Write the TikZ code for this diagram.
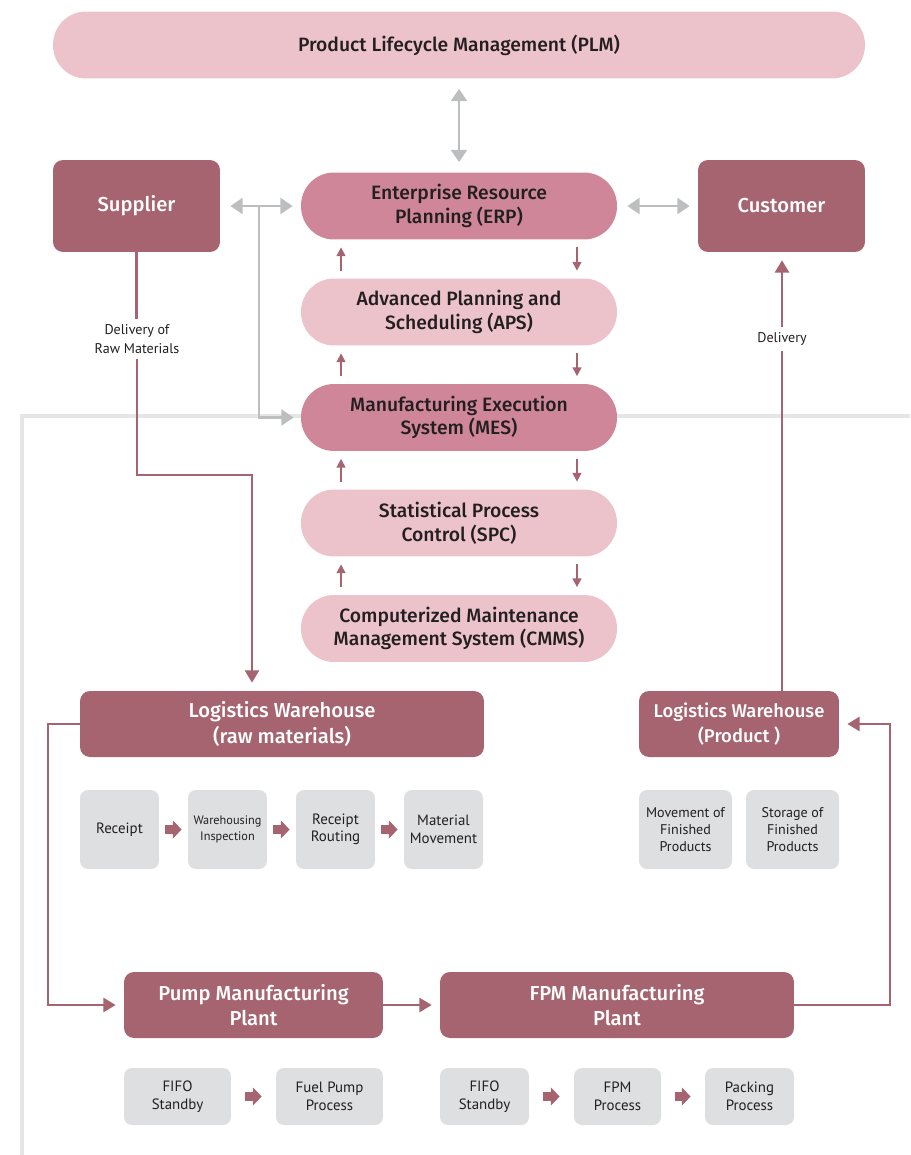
\documentclass[tikz,border=0pt]{standalone}
\usepackage{fontspec}
\setmainfont{PT Sans}
\newfontfamily\headfont{Fira Sans}[UprightFont={* Medium}]
\usetikzlibrary{arrows.meta}

\definecolor{plumdark}{HTML}{A5646F}
\definecolor{rosemid}{HTML}{CF8698}
\definecolor{roselight}{HTML}{EDC3CB}
\definecolor{stepgray}{HTML}{DEDFE0}
\definecolor{linkgray}{HTML}{BDBEC0}
\definecolor{framegray}{HTML}{E6E6E7}
\definecolor{inkdark}{HTML}{231F20}

\tikzset{
	pill/.style={rounded corners=0.66cm, minimum width=6.32cm, minimum height=1.34cm, inner sep=0pt,
		align=center, text=inkdark, font=\headfont\fontsize{11}{13.5}\selectfont},
	darkbox/.style={fill=plumdark, rounded corners=0.2cm, minimum height=1.32cm, inner sep=0pt,
		align=center, text=white, font=\headfont\fontsize{11.5}{14.5}\selectfont},
	stepbox/.style={fill=stepgray, rounded corners=0.16cm, minimum width=1.58cm, minimum height=1.58cm,
		inner sep=0pt, align=center, text=inkdark, font=\fontsize{8.5}{10}\selectfont},
	lowbox/.style={stepbox, minimum height=1.14cm},
	lbl/.style={text=inkdark, align=center, inner sep=3pt, font=\fontsize{8}{11}\selectfont},
	flow/.style={draw=plumdark, line width=1.4pt, -{Triangle[width=8pt,length=7pt]}},
	tick/.style={draw=plumdark, line width=1pt, -{Triangle[width=5pt,length=5pt]},
		shorten <=0.15cm, shorten >=0.15cm},
	link/.style={draw=linkgray, line width=1.6pt, >={Triangle[width=9pt,length=7pt]}},
	fatarrow/.style={draw=plumdark, line width=5pt, -{Triangle[width=10pt,length=5pt]},
		shorten <=#1, shorten >=#1},
	fatarrow/.default=0.12cm
}

\begin{document}
\begin{tikzpicture}[x=0.02cm, y=-0.02cm]
	\useasboundingbox (0,0) rectangle (910,1155);

	% frame behind the plant area
	\draw[framegray, line width=2.8pt] (910,416) -- (22,416) -- (22,1155);

	% systems column
	\node[pill, fill=roselight, minimum width=16.24cm] (plm) at (459,45) {Product Lifecycle Management (PLM)};
	\node[pill, fill=rosemid] (erp) at (459,206) {Enterprise Resource\\Planning (ERP)};
	\node[pill, fill=roselight] (aps) at (459,312) {Advanced Planning and\\Scheduling (APS)};
	\node[pill, fill=rosemid] (mes) at (459,417.5) {Manufacturing Execution\\System (MES)};
	\node[pill, fill=roselight] (spc) at (459,523) {Statistical Process\\Control (SPC)};
	\node[pill, fill=roselight] (cmms) at (459,628.5) {Computerized Maintenance\\Management System (CMMS)};

	\node[darkbox, minimum width=3.34cm, minimum height=1.84cm] (sup) at (136.5,206) {Supplier};
	\node[darkbox, minimum width=3.34cm, minimum height=1.84cm] (cus) at (781.5,206) {Customer};

	% warehouses and plants
	\node[darkbox, minimum width=8.08cm] (lwr) at (282,724) {Logistics Warehouse\\(raw materials)};
	\node[darkbox, minimum width=4cm, font=\headfont\fontsize{10.5}{14.5}\selectfont] (lwp) at (739,724) {Logistics Warehouse\\(Product )};
	\node[darkbox, minimum width=5.18cm] (pump) at (253.5,1005) {Pump Manufacturing\\Plant};
	\node[darkbox, minimum width=7.08cm] (fpm) at (617,1005) {FPM Manufacturing\\Plant};

	% process steps
	\node[stepbox] (rcpt) at (119.5,829.5) {Receipt};
	\node[stepbox, font=\fontsize{7}{9}\selectfont] (insp) at (227.5,829.5) {Warehousing\\Inspection};
	\node[stepbox] (rout) at (335.5,829.5) {Receipt\\Routing};
	\node[stepbox] (move) at (443.5,829.5) {Material\\Movement};
	\node[stepbox, minimum width=1.86cm, font=\fontsize{8}{9.5}\selectfont] (mfp) at (685.5,829.5) {Movement of\\Finished\\Products};
	\node[stepbox, minimum width=1.86cm, font=\fontsize{8}{9.5}\selectfont] (sfp) at (792.5,829.5) {Storage of\\Finished\\Products};

	\node[lowbox, minimum width=2.14cm] (fifoa) at (177.5,1096.5) {FIFO\\Standby};
	\node[lowbox, minimum width=2.14cm] (fuel) at (329.5,1096.5) {Fuel Pump\\Process};
	\node[lowbox, minimum width=1.78cm] (fifob) at (484.5,1096.5) {FIFO\\Standby};
	\node[lowbox, minimum width=1.74cm] (fpmp) at (617.5,1096.5) {FPM\\Process};
	\node[lowbox, minimum width=1.78cm] (pack) at (749.5,1096.5) {Packing\\Process};

	% connector labels
	\node[lbl] (rawlab) at (137,339) {Delivery of\\Raw Materials};
	\node[lbl] (dellab) at (782,339) {Delivery};

	% gray information links
	\draw[link, <->, shorten <=0.2cm, shorten >=0.2cm] (plm.south) -- (erp.north);
	\draw[link, <->, shorten <=0.2cm, shorten >=0.16cm] (sup.east) -- (erp.west);
	\draw[link, <->, shorten <=0.2cm, shorten >=0.16cm] (erp.east) -- (cus.west);
	\coordinate (erpbranch) at (259,206);
	\draw[link, ->, shorten >=0.14cm] (erpbranch) |- (mes.west);

	% small arrows between systems
	\foreach \a/\b in {erp/aps, aps/mes, mes/spc, spc/cmms} {
		\draw[tick] ([xshift=-2.36cm]\b.north) -- ([xshift=-2.36cm]\a.south);
		\draw[tick] ([xshift=2.36cm]\a.south) -- ([xshift=2.36cm]\b.north);
	}

	% material flow
	\draw[flow, -] (sup.south) -- (sup.south |- rawlab.north);
	\coordinate (rawbend) at (252,475);
	\draw[flow, shorten >=0.16cm] (rawlab.south) |- (rawbend) -- (rawbend |- lwr.north);
	\coordinate (leftbend) at (48,724);
	\draw[flow, shorten >=0.16cm] (lwr.west) -- (leftbend) |- (pump.west);
	\draw[flow, shorten >=0.16cm] (pump.east) -- (fpm.west);
	\coordinate (rightbend) at (890,1005);
	\draw[flow, shorten >=0.16cm] (fpm.east) -- (rightbend) |- (lwp.east);
	\draw[flow, -] (lwp.north -| dellab) -- (dellab.south);
	\draw[flow, shorten >=0.16cm] (dellab.north) -- (cus.south -| dellab);

	% step arrows
	\foreach \a/\b in {rcpt/insp, insp/rout, rout/move} {
		\draw[fatarrow] (\a) -- (\b);
	}
	\foreach \a/\b in {fifoa/fuel, fifob/fpmp, fpmp/pack} {
		\draw[fatarrow=0.28cm] (\a) -- (\b);
	}
\end{tikzpicture}
\end{document}
